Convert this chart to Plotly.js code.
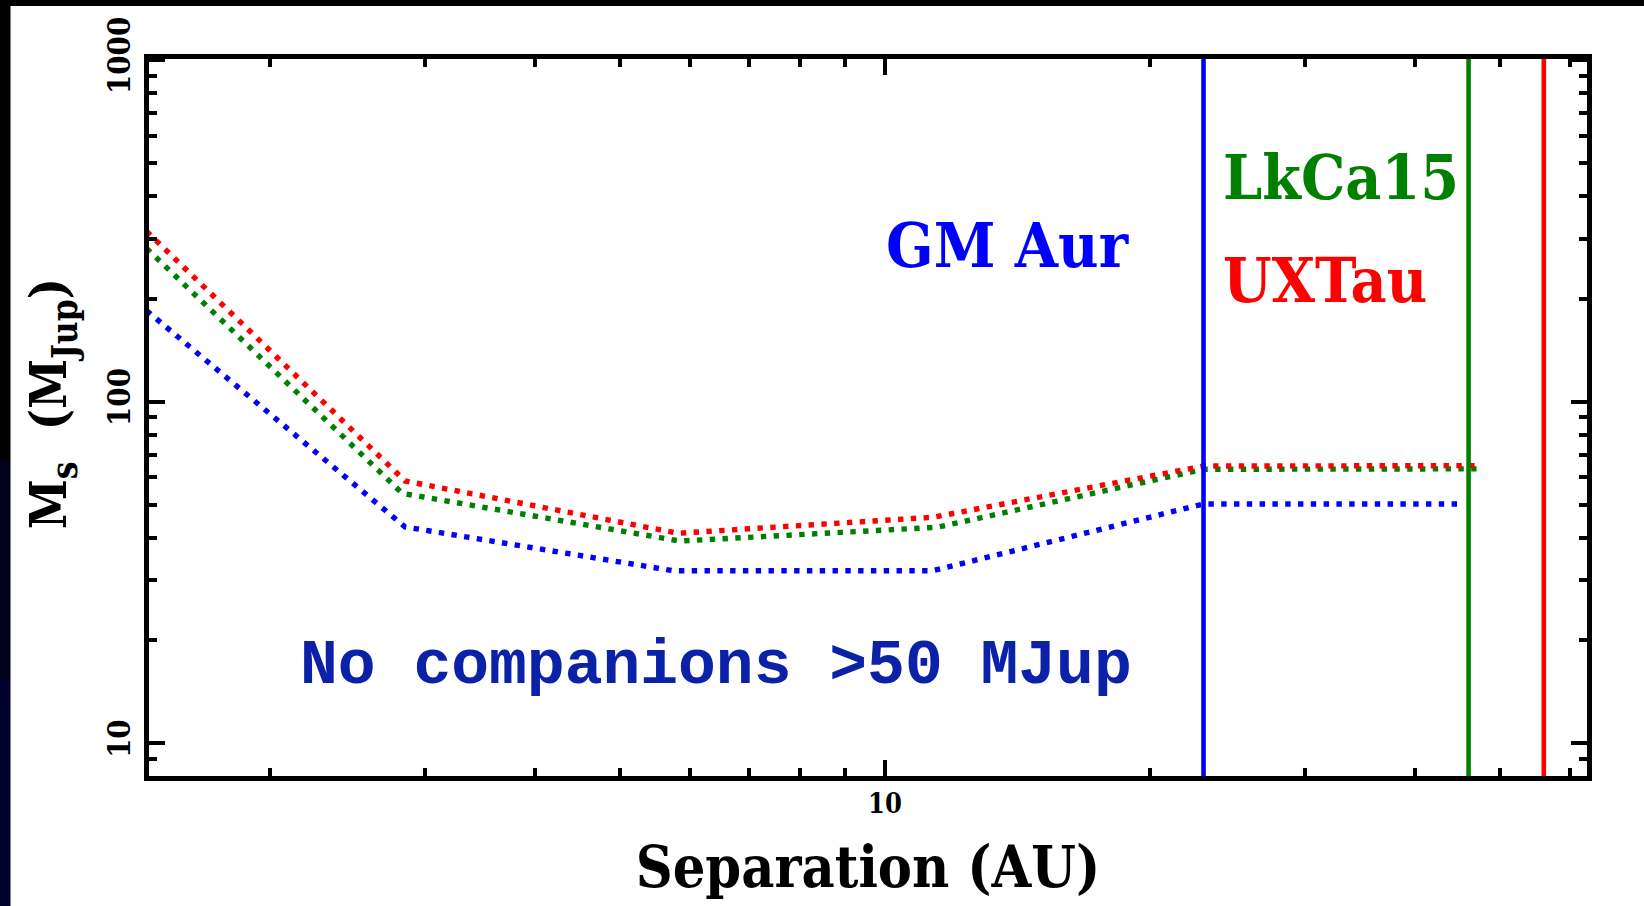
<!DOCTYPE html>
<html>
<head>
<meta charset="utf-8">
<script src="https://cdn.plot.ly/plotly-3.0.1.min.js"></script>
<style>
html,body{margin:0;padding:0;background:#fff;}
#chart{width:1644px;height:906px;}
</style>
</head>
<body>
<div id="chart"></div>
<script>
// Separation (AU) and detection limits (M_Jup) for each star
const sepGMAur = [1.45, 2.85, 5.75, 11.33, 23.0, 45];
const massGMAur = [184.7, 43.0, 32.0, 32.0, 50.2, 50.2];
const sepLkCa15 = [1.45, 2.83, 5.85, 11.46, 23.0, 47];
const massLkCa15 = [281, 53.9, 39.1, 42.9, 63.4, 63.6];
const sepUXTau = [1.45, 2.85, 5.82, 11.34, 23.0, 47];
const massUXTau = [315, 58.6, 41.2, 45.9, 64.8, 65.0];
// Inner hole radii (AU)
const holeNames = ['GM Aur', 'LkCa15', 'UXTau'];
const holeRadius = [23, 46, 56];
const colors = ['#0000ff', '#008000', '#ff0000'];
const xTickVals = [10];
const yTickVals = [10, 100, 1000];

const dotStyle = {width: 5.4, dash: '5.4px,7.4px'};
const traces = [
  {x: sepGMAur, y: massGMAur, color: colors[0]},
  {x: sepLkCa15, y: massLkCa15, color: colors[1]},
  {x: sepUXTau, y: massUXTau, color: colors[2]}
].map(s => ({
  x: s.x, y: s.y, type: 'scatter', mode: 'lines',
  line: {color: s.color, width: dotStyle.width, dash: dotStyle.dash},
  hoverinfo: 'x+y', showlegend: false
}));

const serif = 'DejaVu Serif Condensed, DejaVu Serif, serif';
const xTickFont = {family: serif, size: 27, color: '#000', weight: 'bold'};
const yTickFont = {family: serif, size: 31, color: '#000', weight: 'bold'};
const titleFont = {family: serif, size: 57, color: '#000', weight: 'bold'};
const labelFont = {family: serif, size: 62, weight: 'bold'};

const shapes = holeRadius.map((r, i) => ({
  type: 'line', xref: 'x', yref: 'paper', x0: r, x1: r, y0: 0, y1: 1,
  line: {color: colors[i], width: 4.6}, layer: 'above'
}));
// slide background strips (black frame on top and left)
const L = 149, R = 57, T = 59, B = 130, W = 1644, H = 906;
const pw = W - L - R, ph = H - T - B;
function px2x(px){ return (px - L) / pw; }
function py2y(py){ return (H - B - py) / ph; }
shapes.push({type:'rect', xref:'paper', yref:'paper', x0:px2x(0), x1:px2x(W), y0:py2y(0), y1:py2y(6), fillcolor:'#000', line:{width:0}, layer:'below'});
shapes.push({type:'rect', xref:'paper', yref:'paper', x0:px2x(0), x1:px2x(10.5), y0:py2y(0), y1:py2y(460), fillcolor:'#000', line:{width:0}, layer:'below'});
shapes.push({type:'rect', xref:'paper', yref:'paper', x0:px2x(0), x1:px2x(10.5), y0:py2y(460), y1:py2y(680), fillcolor:'#000018', line:{width:0}, layer:'below'});
shapes.push({type:'rect', xref:'paper', yref:'paper', x0:px2x(0), x1:px2x(10.5), y0:py2y(680), y1:py2y(906), fillcolor:'#00002e', line:{width:0}, layer:'below'});

const annotations = [
  {text: holeNames[0], x: px2x(1007), y: py2y(246), xanchor: 'center', yanchor: 'middle', font: Object.assign({}, labelFont, {color: colors[0]})},
  {text: holeNames[1], x: px2x(1221), y: py2y(177), xanchor: 'left', yanchor: 'middle', font: Object.assign({}, labelFont, {color: colors[1]})},
  {text: holeNames[2], x: px2x(1221), y: py2y(280), xanchor: 'left', yanchor: 'middle', font: Object.assign({}, labelFont, {color: colors[2]})},
  {text: 'No companions &gt;50 MJup', x: px2x(716), y: py2y(666), xanchor: 'center', yanchor: 'middle',
   font: {family: 'Liberation Mono, Courier New, monospace', size: 63, weight: 'bold', color: '#0b22a8'}},
  {text: 'M<sub>s</sub>  (M<sub>Jup</sub>)', x: px2x(52), y: py2y(404), xanchor: 'center', yanchor: 'middle', textangle: -90,
   font: Object.assign({}, titleFont, {size: 50})}
].map(a => Object.assign({xref: 'paper', yref: 'paper', showarrow: false}, a));

const axisCommon = {
  type: 'log', showgrid: false, zeroline: false,
  showline: true, linewidth: 5, linecolor: '#000', mirror: 'ticks',
  ticks: 'inside', ticklen: 16, tickwidth: 4, tickcolor: '#000',
  tickmode: 'array',
  minor: {dtick: 'D1', ticks: 'inside', ticklen: 8, tickwidth: 4, tickcolor: '#000', showgrid: false}
};

const layout = {
  width: W, height: H,
  margin: {l: L, r: R, t: T, b: B},
  paper_bgcolor: '#fff', plot_bgcolor: '#fff',
  showlegend: false,
  xaxis: Object.assign({}, axisCommon, {
    range: [Math.log10(1.459), Math.log10(62.7)],
    tickvals: xTickVals, ticktext: xTickVals.map(String), tickfont: xTickFont,
    title: {text: 'Separation (AU)', font: titleFont, standoff: 30}
  }),
  yaxis: Object.assign({}, axisCommon, {
    range: [0.9043, 3.0032],
    tickvals: yTickVals, ticktext: yTickVals.map(String), tickfont: yTickFont,
    tickangle: -90, ticklabelstandoff: 2
  }),
  shapes: shapes,
  annotations: annotations
};

Plotly.newPlot('chart', traces, layout, {staticPlot: true, displayModeBar: false});
</script>
</body>
</html>
